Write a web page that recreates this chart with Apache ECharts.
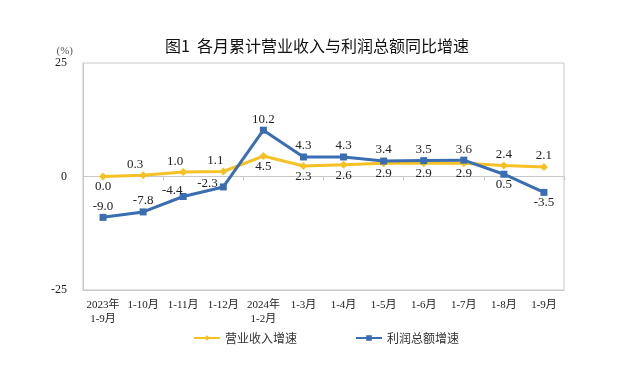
<!DOCTYPE html>
<html><head><meta charset="utf-8">
<script src="https://cdn.jsdelivr.net/npm/echarts@6/dist/echarts.min.js"></script>
<style>html,body{margin:0;padding:0;background:#fff}#c{width:621px;height:365px}</style>
</head><body><div id="c"></div>
<script>
var categories = ['2023年\n1-9月','1-10月','1-11月','1-12月','2024年\n1-2月','1-3月','1-4月','1-5月','1-6月','1-7月','1-8月','1-9月'];
var revenue = [0.0, 0.3, 1.0, 1.1, 4.5, 2.3, 2.6, 2.9, 2.9, 2.9, 2.4, 2.1];
var profit = [-9.0, -7.8, -4.4, -2.3, 10.2, 4.3, 4.3, 3.4, 3.5, 3.6, 0.5, -3.5];
var revenueLabelPos = ['bottom','topleft','topleft','topleft','bottom','bottom','bottom','bottom','bottom','bottom','top','top'];
var profitLabelPos = ['top','top','topleft2','left','top','top','top','top','top','top','bottom','bottom'];
var yTicks = [-25, 0, 25];

var serif = '"Liberation Serif","Noto Sans CJK SC",serif';
var chart = echarts.init(document.getElementById('c'));
function mk(vals, pos) {
  return vals.map(function (v, i) {
    var p = pos[i];
    var lbl;
    if (p === 'left') lbl = {position: 'left', distance: 2, offset: [0, -3]};
    else if (p === 'topleft') lbl = {position: 'top', distance: 0, offset: [-8, 0]};
    else if (p === 'topleft2') lbl = {position: 'top', distance: 0, offset: [-11, 4]};
    else if (p === 'bottom') lbl = {position: 'bottom', distance: 0};
    else lbl = {position: 'top', distance: 1};
    return {value: v, label: lbl};
  });
}
var labelFmt = function (p) { return p.value.toFixed(1); };
chart.setOption({
  animation: false,
  title: {
    text: '图1  各月累计营业收入与利润总额同比增速',
    left: 160, top: 33,
    textStyle: {fontFamily: '"Noto Sans CJK SC",sans-serif', fontSize: 16, fontWeight: 'normal', color: '#111'}
  },
  grid: {left: 83, right: 57, top: 63, bottom: 75, show: true, borderColor: '#c8c8c8', borderWidth: 1},
  legend: {
    bottom: 21, left: 193, padding: 0, itemGap: 58, itemWidth: 26, itemHeight: 7,
    textStyle: {fontFamily: '"Noto Sans CJK SC",sans-serif', fontSize: 12, color: '#333'},
    data: ['营业收入增速', '利润总额增速']
  },
  xAxis: [{
    type: 'category', data: categories, position: 'bottom', boundaryGap: true,
    axisLine: {onZero: false, lineStyle: {color: '#c8c8c8'}},
    axisTick: {show: false},
    axisLabel: {interval: 0, fontFamily: serif, fontSize: 11, color: '#222', margin: 8, lineHeight: 14}
  }, {
    type: 'category', data: categories, position: 'bottom', boundaryGap: true,
    axisLine: {show: true, onZero: true, lineStyle: {color: '#c8c8c8'}},
    axisTick: {show: true, length: 4, inside: false, lineStyle: {color: '#c8c8c8'}},
    axisLabel: {show: false}
  }],
  yAxis: {
    type: 'value', min: yTicks[0], max: yTicks[2], interval: 25,
    name: '(%)', nameLocation: 'end', nameGap: 2,
    nameTextStyle: {fontFamily: serif, fontSize: 11, color: '#555', align: 'right', padding: [0, 10, 0, 0]},
    axisLine: {show: true, lineStyle: {color: '#c8c8c8'}},
    axisTick: {show: false},
    splitLine: {show: false},
    axisLabel: {fontFamily: serif, fontSize: 12, color: '#222', margin: 16}
  },
  series: [{
    name: '营业收入增速', type: 'line', xAxisIndex: 0,
    data: mk(revenue, revenueLabelPos),
    color: '#F5C125', symbol: 'diamond', symbolSize: 8,
    lineStyle: {width: 3, color: '#F5C125'}, itemStyle: {color: '#F5C125'},
    label: {show: true, fontFamily: serif, fontSize: 13, color: '#222', formatter: labelFmt},
    z: 2
  }, {
    name: '利润总额增速', type: 'line', xAxisIndex: 0,
    data: mk(profit, profitLabelPos),
    color: '#3B6DB3', symbol: 'rect', symbolSize: 7,
    lineStyle: {width: 3, color: '#3B6DB3'}, itemStyle: {color: '#3B6DB3'},
    label: {show: true, fontFamily: serif, fontSize: 13, color: '#222', formatter: labelFmt},
    z: 3
  }]
});
</script></body></html>
